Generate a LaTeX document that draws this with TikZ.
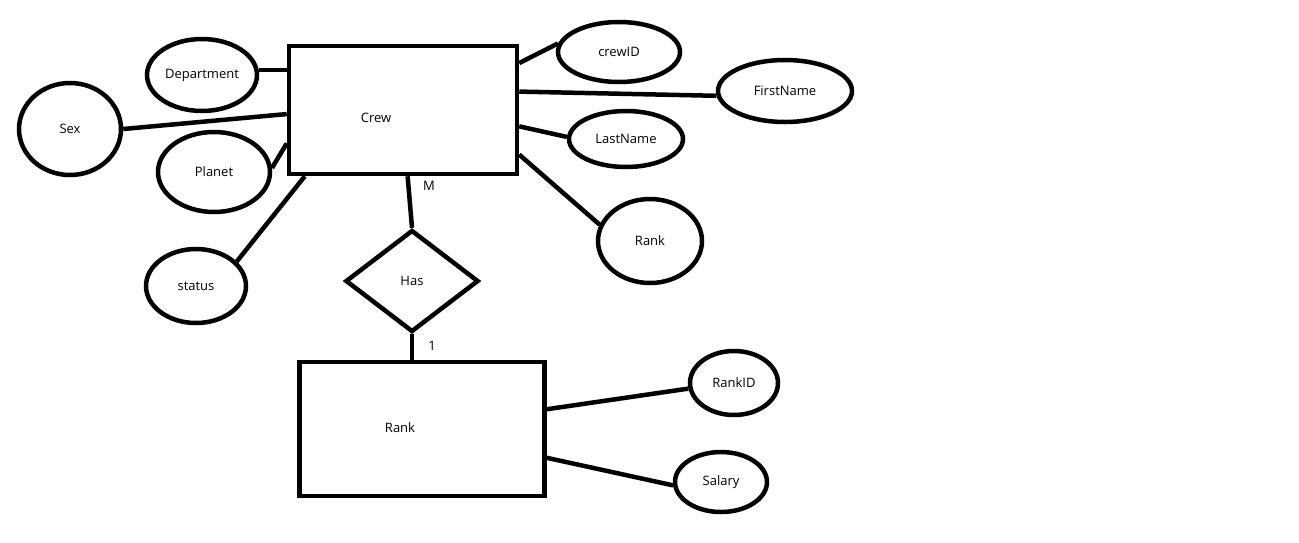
\documentclass[tikz,border=0pt]{standalone}
\usepackage{fontspec}
\setmainfont{Open Sans}
\usetikzlibrary{shapes.geometric}

\tikzset{every picture/.style={line width=4.5pt}}
\tikzset{
  paint/.style={font=\fontsize{13pt}{15pt}\selectfont, text=black},
  attr/.style={draw, ellipse, inner sep=0pt, paint},
  entity/.style={draw, rectangle, inner sep=0pt, paint},
  relation/.style={draw, diamond, inner sep=0pt, paint},
  card/.style={inner sep=0.75pt, paint}
}

\begin{document}
\begin{tikzpicture}[x=1pt,y=1pt,yscale=-1,xscale=1]
\useasboundingbox (0,0) rectangle (1299,542);

%Shape: Rectangle
\node[entity, minimum width=228pt, minimum height=128pt, label={[paint, xshift=-27pt, yshift=-8pt]center:Crew}] (crew) at (403,110) {};
%Shape: Rectangle
\node[entity, minimum width=245pt, minimum height=134pt, label={[paint, xshift=-22pt, yshift=1pt]center:Rank}] (rank) at (422,429) {};
%Shape: Diamond
\node[relation, minimum width=133pt, minimum height=102pt] (has) at (412,281) {Has};

%Shape: Ellipse
\node[attr, minimum width=110pt, minimum height=72pt] (dept) at (202,75) {Department};
%Shape: Ellipse
\node[attr, minimum width=102pt, minimum height=92pt] (sex) at (70,129) {Sex};
%Shape: Ellipse
\node[attr, minimum width=112pt, minimum height=80pt] (planet) at (214,172) {Planet};
%Shape: Ellipse
\node[attr, minimum width=100pt, minimum height=74pt] (status) at (196,286) {status};
%Shape: Ellipse
\node[attr, minimum width=122pt, minimum height=60pt] (crewid) at (619,52) {crewID};
%Shape: Ellipse
\node[attr, minimum width=134pt, minimum height=62pt] (firstname) at (785,91) {FirstName};
%Shape: Ellipse
\node[attr, minimum width=114pt, minimum height=56pt] (lastname) at (626,139) {LastName};
%Shape: Ellipse
\node[attr, minimum width=104pt, minimum height=84pt] (rankatt) at (650,241) {Rank};
%Shape: Ellipse
\node[attr, minimum width=88pt, minimum height=64pt] (rankid) at (734,383) {RankID};
%Shape: Ellipse
\node[attr, minimum width=92pt, minimum height=60pt] (salary) at (721,482) {Salary};

%Straight Lines
\draw (dept.5) -- (dept.5 -| crew.west);
\draw (sex.east) -- (crew.182);
\draw (planet.4) -- (crew.196);
\draw (status.31) -- (crew.214);
\draw (crewid.172) -- (crew.22);
\draw (firstname.184) -- (crew.9);
\draw (lastname.178) -- (crew.352);
\draw (rankatt.162) -- (crew.339);
%Straight Lines
\draw (crew.274) -- (has.north);
\draw (has.south) -- (has.south |- rank.north);
%Straight Lines
\draw (rankid.187) -- (rank.9);
\draw (salary.184) -- (rank.347);

% Text Node
\node[card] (cardm) at (429,186) {M};
% Text Node
\node[card] (cardone) at (432,346) {1};

\end{tikzpicture}
\end{document}
